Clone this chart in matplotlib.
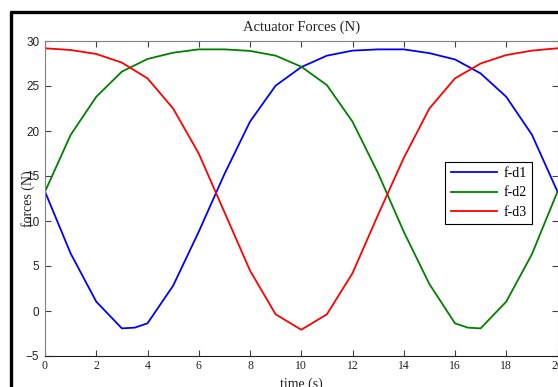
import matplotlib
matplotlib.use('Agg')
import matplotlib.pyplot as plt
from matplotlib.lines import Line2D

# time samples (s) and actuator forces (N)
t_d1 = [0, 1, 2, 3, 3.5, 4, 5, 6, 7, 8, 9, 10, 11, 12, 13, 14, 15, 16, 17, 18, 19, 20]
f_d1 = [13.26, 6.4, 1.04, -1.93, -1.85, -1.37, 2.81, 8.81, 15.2, 21.04, 25.04, 27.1,
        28.37, 28.93, 29.07, 29.07, 28.65, 27.95, 26.4, 23.8, 19.6, 13.26]

t_d2 = [0, 1, 2, 3, 4, 5, 6, 7, 8, 9, 10, 11, 12, 13, 14, 15, 16, 16.5, 17, 18, 19, 20]
f_d2 = [13.26, 19.56, 23.8, 26.6, 28.0, 28.7, 29.07, 29.07, 28.9, 28.37, 27.15, 25.1,
        21.04, 15.3, 8.81, 3.0, -1.37, -1.85, -1.93, 1.04, 6.3, 13.26]

t_d3 = [0, 1, 2, 3, 4, 5, 6, 7, 8, 9, 10, 11, 12, 13, 14, 15, 16, 17, 18, 19, 20]
f_d3 = [29.19, 29.0, 28.56, 27.6, 25.85, 22.5, 17.5, 11.0, 4.5, -0.37, -2.08, -0.37,
        4.2, 10.7, 17.0, 22.5, 25.85, 27.5, 28.44, 28.93, 29.19]

labels = ['f-d1', 'f-d2', 'f-d3']
colors = ['#0000ff', '#008000', '#ff0000']
x_ticks = list(range(0, 21, 2))
y_ticks = list(range(-5, 31, 5))

W, H = 558, 387
fig = plt.figure(figsize=(W / 100, H / 100), dpi=100)
ax = fig.add_axes([45 / W, 1 - 356 / H, 512.5 / W, 315 / H])

serif = 'Liberation Serif'
sans = 'Liberation Sans'

for t, f, lab, c in zip([t_d1, t_d2, t_d3], [f_d1, f_d2, f_d3], labels, colors):
    ax.plot(t, f, color=c, lw=1.3, label=lab)

ax.set_xlim(0, 20)
ax.set_ylim(-5, 30)
ax.set_xticks(x_ticks)
ax.set_yticks(y_ticks)
ax.tick_params(direction='in', length=4, width=0.8, top=True, right=True,
               color='#404040', labelcolor='#222222')
ax.tick_params(axis='x', pad=3)
ax.tick_params(axis='y', pad=4)
for lbl in ax.get_xticklabels():
    lbl.set_fontfamily(serif)
    lbl.set_fontsize(8.5)
for lbl in ax.get_yticklabels():
    lbl.set_fontfamily(sans)
    lbl.set_fontsize(8.5)

for side in ['left', 'top', 'right']:
    ax.spines[side].set_color('#808080')
ax.spines['bottom'].set_color('#202020')

ax.set_title('Actuator Forces (N)', family=serif, fontsize=10.5, color='#222222', pad=7)
ax.set_xlabel('time (s)', family=serif, fontsize=10, color='#222222')
ax.set_ylabel('forces (N)', family=serif, fontsize=10, color='#222222')
ax.xaxis.set_label_coords(0.5, -0.068)
ax.yaxis.set_label_coords(-0.02, 0.5)

leg = ax.legend(loc='upper left', bbox_to_anchor=(0.781, 0.617), borderaxespad=0,
                prop={'family': serif, 'size': 10}, handlelength=3.3,
                labelspacing=0.45, borderpad=0.4, handletextpad=0.5,
                fancybox=False, framealpha=1)
leg.get_frame().set_edgecolor('black')
leg.get_frame().set_linewidth(0.8)

# black window frame, cut at right and bottom
fig.add_artist(Line2D([11 / W, 11 / W], [1 - 11 / H, 0], color='black', lw=2.4,
                      transform=fig.transFigure, solid_capstyle='butt'))
fig.add_artist(Line2D([10 / W, 1], [1 - 12 / H, 1 - 12 / H], color='black', lw=2.4,
                      transform=fig.transFigure, solid_capstyle='butt'))

fig.savefig('out.png', dpi=100)
